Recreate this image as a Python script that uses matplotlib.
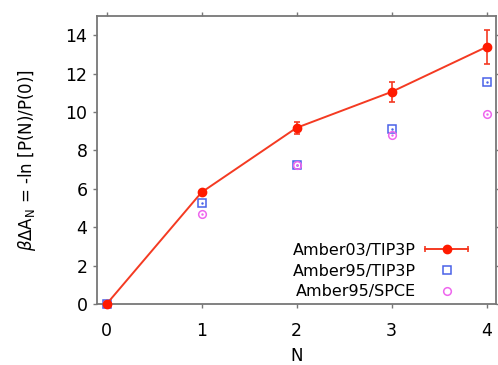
import matplotlib
matplotlib.use('Agg')
import matplotlib.pyplot as plt
from matplotlib.lines import Line2D
from matplotlib.legend_handler import HandlerLine2D, HandlerTuple

plt.rcParams['font.family'] = ['DejaVu Sans']

# data
n_values = [0, 1, 2, 3, 4]
amber03_tip3p = [0.0, 5.82, 9.18, 11.05, 13.39]
amber03_err = [0.0, 0.1, 0.3, 0.52, 0.9]
amber95_tip3p = [0.0, 5.24, 7.24, 9.12, 11.55]
amber95_spce = [0.0, 4.7, 7.24, 8.82, 9.91]

x_ticks = [0, 1, 2, 3, 4]
y_ticks = [0, 2, 4, 6, 8, 10, 12, 14]

red = '#f43a22'
dot_red = '#ff1a00'
blue = '#4a62e8'
magenta = '#ee66ee'
spine_grey = '#777777'

fig = plt.figure(figsize=(4.98, 3.65), dpi=100)
ax = fig.add_axes([0.195, 0.167, 0.801, 0.789])

ax.errorbar(n_values, amber03_tip3p, yerr=amber03_err, color=red, lw=1.4,
            marker='o', ms=6, mfc=dot_red, mec=dot_red, capsize=2.5,
            elinewidth=1.2, capthick=1.2, clip_on=False, zorder=3)
for ys, mk, col in [(amber95_tip3p, 's', blue), (amber95_spce, 'o', magenta)]:
    ax.plot(n_values, ys, ls='none', marker=mk, ms=5.5, mfc='none',
            mec=col, mew=1.1, clip_on=False, zorder=2)
    ax.plot(n_values, ys, ls='none', marker='.', ms=1.5, color=col,
            clip_on=False, zorder=2)

ax.set_xlim(-0.1, 4.1)
ax.set_ylim(0, 15)
ax.set_xticks(x_ticks)
ax.set_yticks(y_ticks)

for s in ax.spines.values():
    s.set_color(spine_grey)
    s.set_linewidth(1.3)
ax.tick_params(axis='both', which='both', direction='out', length=3,
               width=1, color=spine_grey, labelsize=12.5, top=True, right=True,
               labeltop=False, labelright=False)
ax.tick_params(axis='x', pad=10)
ax.tick_params(axis='y', pad=4)

ax.set_xlabel('N', fontsize=12, labelpad=5)
ax.set_ylabel(r'$\beta\Delta$A$_\mathregular{N}$ = -ln [P(N)/P(0)]',
              fontsize=12, labelpad=20)

# legend: line with caps and a dot in the middle, marker placed after text
cap_line = Line2D([], [], color=red, lw=1.4, marker='|', ms=5, mew=1.2)
dot = Line2D([], [], ls='none', marker='o', ms=6, color=dot_red)
sq = Line2D([], [], ls='none', marker='s', ms=5.5, mfc='none', mec=blue, mew=1.1)
circ = Line2D([], [], ls='none', marker='o', ms=5.5, mfc='none', mec=magenta, mew=1.1)

leg = ax.legend([(cap_line, dot), sq, circ],
                ['Amber03/TIP3P', 'Amber95/TIP3P', 'Amber95/SPCE'],
                handler_map={cap_line: HandlerLine2D(numpoints=2),
                             tuple: HandlerTuple(ndivide=1, pad=0)},
                loc='lower right', bbox_to_anchor=(0.957, -0.005),
                borderaxespad=0, markerfirst=False, frameon=False,
                fontsize=11.5, handlelength=3.25, handletextpad=0.3,
                labelspacing=0.35, numpoints=1)

fig.savefig('out.png', dpi=100)
